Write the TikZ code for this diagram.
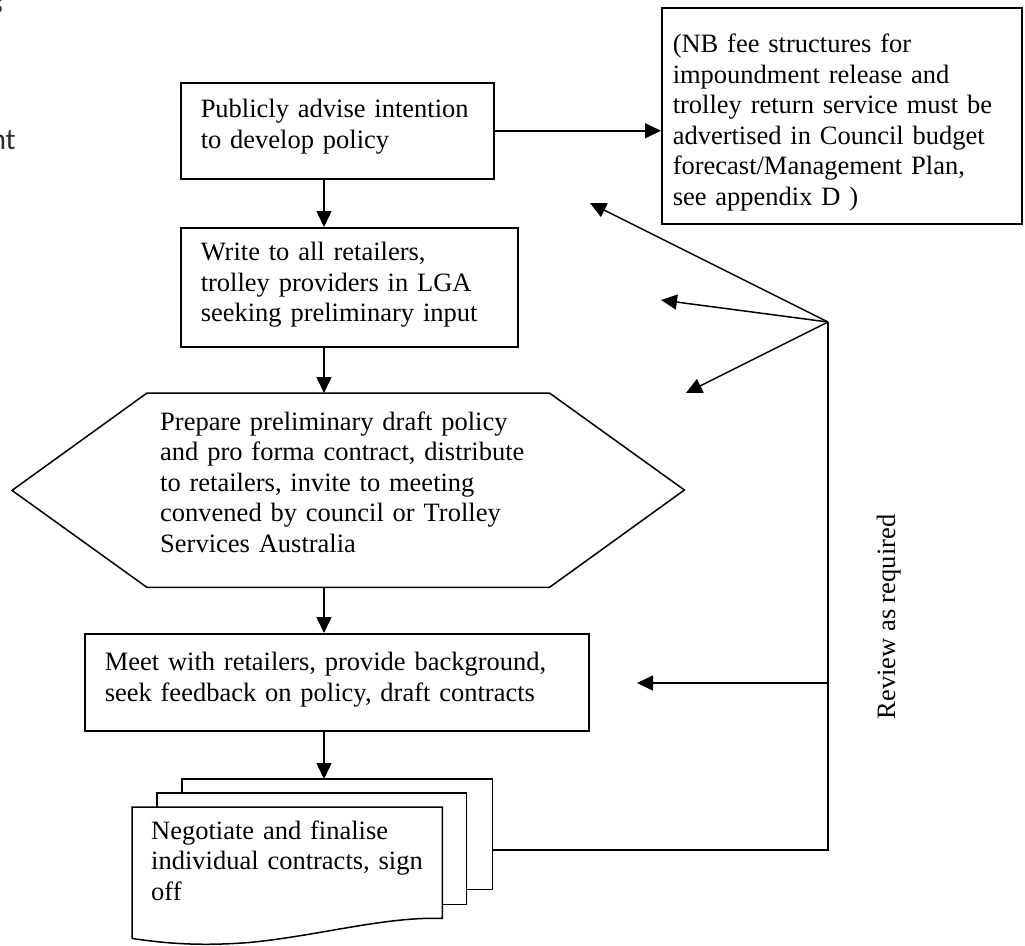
\documentclass[tikz,border=0pt]{standalone}
\definecolor{FlowDark}{RGB}{0,0,0}
\definecolor{PageGrey}{RGB}{45,45,45}
\usepackage{fontspec}
\setmainfont{Liberation Serif}
\newfontfamily\pagefont{Carlito}
\usepackage{tikz}
\usetikzlibrary{arrows.meta,positioning,calc}

\tikzset{
  flowtext/.style={rectangle, font=\fontsize{26.5}{30.5}\selectfont, text=FlowDark,
    align=left, inner ysep=0pt, anchor=north west},
  flowbox/.style={flowtext, draw=FlowDark, line width=1.5pt},
  flowline/.style={draw=FlowDark, line width=1.5pt},
  flowarrow/.style={flowline, -{Triangle[length=16pt,width=15pt]}},
  pagefrag/.style={font=\pagefont\fontsize{30}{36}\selectfont, text=PageGrey,
    inner sep=0pt, anchor=base east}
}

\begin{document}
\begin{tikzpicture}[x=1pt, y=-1pt]
      \useasboundingbox (0,0) rectangle (1025,945);
      % text of the page, cut at the margin
      \node[pagefrag] (frag-s) at (3,13) {s};
      \node[pagefrag] (frag-nt) at (16,149) {nt};

      % steps
      \node[flowbox, inner xsep=20pt, text width=273pt, text height=35pt, text depth=61pt]
        (advise) at (180,82) {Publicly advise intention\\to develop policy};
      \node[flowbox, inner xsep=11pt, text width=338pt, text height=45pt, text depth=171pt]
        (note) at (661,7) {(NB fee structures for\\impoundment release and\\trolley return service must be\\advertised in Council budget\\forecast/Management Plan,\\see appendix D )};
      \node[flowbox, inner xsep=20pt, text width=297pt, text height=33pt, text depth=86pt]
        (write) at (180,227) {Write to all retailers,\\trolley providers in LGA\\seeking preliminary input};
      \node[flowtext, inner xsep=13pt, text width=376pt, text height=37pt, text depth=157pt]
        (prep) at (147,393) {Prepare preliminary draft policy\\and pro forma contract, distribute\\to retailers, invite to meeting\\convened by council or Trolley\\Services Australia};
      \draw[flowline] (prep.north west) -- (prep.north east) -- ++(135,97) -- (prep.south east)
        -- (prep.south west) -- ++(-135,-97) -- cycle;
      \node[flowbox, inner xsep=20pt, text width=464pt, text height=37pt, text depth=60pt]
        (meet) at (84,633) {Meet with retailers, provide background,\\seek feedback on policy, draft contracts};
      \node[flowtext, inner xsep=19pt, text width=272pt, text height=32pt, text depth=79pt]
        (nego) at (132,807) {Negotiate and finalise\\individual contracts, sign\\off};

      % stacked pages behind the last step
      \coordinate (mid-nw) at ($(nego.north west)+(25,-14)$);
      \coordinate (mid-se) at ($(nego.south east)+(24,-14)$);
      \coordinate (back-nw) at ($(nego.north west)+(50,-28)$);
      \coordinate (back-se) at ($(nego.south east)+(50,-29)$);
      \draw[flowline] (back-nw |- mid-nw) -- (back-nw) -- (back-nw -| back-se) -- (back-se) -- (back-se -| mid-se);
      \draw[flowline] (mid-nw |- nego.north) -- (mid-nw) -- (mid-nw -| mid-se) -- (mid-se) -- (mid-se -| nego.east);
      \draw[flowline] (nego.north west) -- (nego.north east) -- (nego.south east)
        .. controls ($(nego.south east)+(-57,-2)$) and ($(nego.south east)+(-122,17)$) .. ($(nego.south east)+(-192,24)$)
        .. controls ($(nego.south west)+(68,28)$) and ($(nego.south west)+(33,25)$) .. ($(nego.south west)+(0,20)$)
        -- cycle;

      % main flow
      \coordinate (spine) at (324,0);
      \draw[flowarrow] (advise.east) -- (advise.east -| note.west);
      \draw[flowarrow] (advise.south -| spine) -- (write.north -| spine);
      \draw[flowarrow] (write.south -| spine) -- (prep.north -| spine);
      \draw[flowarrow] (prep.south -| spine) -- (meet.north -| spine);
      \draw[flowarrow] (meet.south -| spine) -- (back-nw -| spine);

      % review loop
      \coordinate (hub) at (828,322);
      \coordinate (loop-low) at (828,850);
      \coordinate (tip-a) at (590,203);
      \coordinate (tip-b) at (661,300);
      \coordinate (tip-c) at (686,393);
      \coordinate (tip-d) at (637,683);
      \draw[flowline] (loop-low -| back-se) -- (loop-low) -- (hub);
      \draw[flowarrow] (hub) -- (tip-a);
      \draw[flowarrow] (hub) -- (tip-b);
      \draw[flowarrow] (hub) -- (tip-c);
      \draw[flowarrow] (tip-d -| hub) -- (tip-d);
      \node[font=\fontsize{26.5}{30.5}\selectfont, rotate=90, anchor=base, inner sep=0pt]
        (review) at (895,617) {Review as required};
\end{tikzpicture}
\end{document}
